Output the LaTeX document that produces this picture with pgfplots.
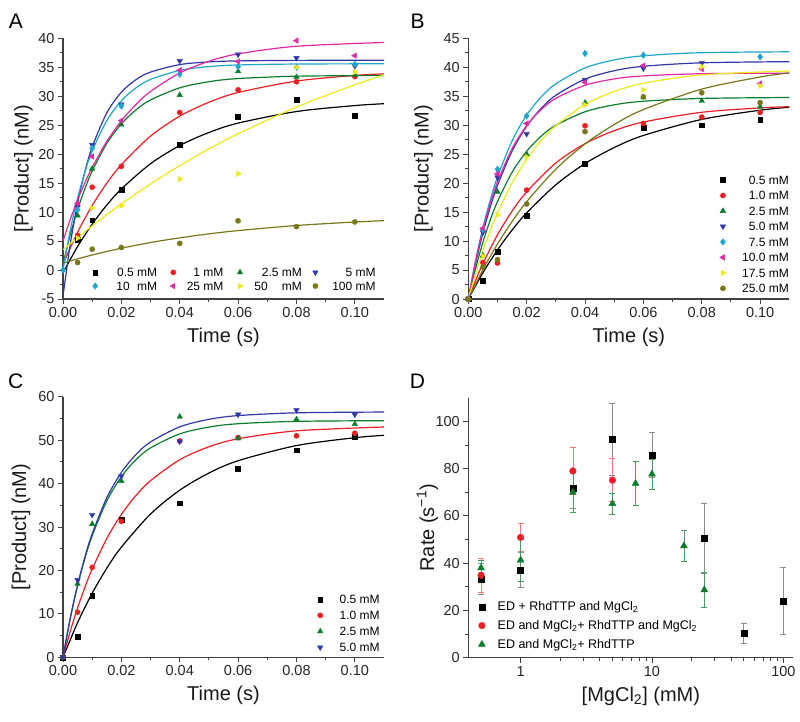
\documentclass[border=0pt]{standalone}
\usepackage{fontspec}
\setmainfont{Liberation Sans}
\usepackage{pgfplots}
\pgfplotsset{compat=1.18}
\definecolor{cBlack}{RGB}{0,0,0}
\definecolor{cRed}{RGB}{238,30,36}
\definecolor{cGreen}{RGB}{10,125,45}
\definecolor{cBlue}{RGB}{50,55,170}
\definecolor{cCyan}{RGB}{30,165,205}
\definecolor{cMag}{RGB}{228,40,165}
\definecolor{cYel}{RGB}{235,235,25}
\definecolor{cOli}{RGB}{120,120,25}
\pgfplotsset{
  panel/.style={scale only axis, axis x line*=bottom, axis y line*=left,
    tick align=outside, major tick length=5pt, minor tick length=3pt,
    every tick/.style={black!75, line width=0.9pt},
    axis line style={black!75, line width=1.1pt},
    tick label style={font=\fontsize{14.5}{16}\selectfont, black!85},
    label style={font=\fontsize{20}{24}\selectfont, black!90},
    /pgf/number format/assume math mode=true,
    legend image code/.code={\path (0pt,0pt) (12pt,0pt); \draw[##1] plot coordinates {(6pt,0pt)};},
  },
  kin/.style={panel, width=321pt, height=260.7pt, xmin=0, xmax=0.11,
    xtick={0,0.02,0.04,0.06,0.08,0.1}, minor x tick num=1, minor y tick num=1,
    xticklabel style={/pgf/number format/.cd, fixed, fixed zerofill, precision=2},
    yticklabel style={/pgf/number format/fixed},
    xlabel={Time (s)}, ylabel={[Product] (nM)},
    xlabel style={at={(axis description cs:0.5,-0.146)}, anchor=center},
  },
  leg/.style 2 args={legend style={draw=none, fill=none, inner sep=0pt, outer sep=0pt, row sep=0pt, column sep=0pt,
    font=\fontsize{12}{14}\selectfont,
    nodes={inner sep=0pt, outer sep=0pt, anchor=west, text height=#1, text depth=#2}}},
  fit/.style={smooth, line width=1.2pt, forget plot, no marks},
  sq/.style={only marks, mark=square*, mark size=2.4pt, color=#1},
  ci/.style={only marks, mark=*, mark size=2.6pt, color=#1},
  tu/.style={only marks, mark=triangle*, mark size=3.2pt, color=#1},
  td/.style={only marks, mark=triangle*, mark size=3.2pt, mark options={rotate=180}, color=#1},
  di/.style={only marks, mark=diamond*, mark size=3.3pt, color=#1},
  tl/.style={only marks, mark=triangle*, mark size=3.2pt, mark options={rotate=90}, color=#1},
  tr/.style={only marks, mark=triangle*, mark size=3.2pt, mark options={rotate=-90}, color=#1},
}
\begin{document}
\begin{tikzpicture}
\path[use as bounding box] (0,0) rectangle (800pt,-721pt);
\node[font=\fontsize{21}{24}\selectfont] at (15.8pt,-20.8pt) {A};
\node[font=\fontsize{21}{24}\selectfont] at (417.5pt,-20.8pt) {B};
\node[font=\fontsize{21}{24}\selectfont] at (15.8pt,-381pt) {C};
\node[font=\fontsize{21}{24}\selectfont] at (417.5pt,-381pt) {D};

% ---------------- Panel A ----------------
\begin{axis}[kin, at={(63pt,-299pt)}, anchor=south west, ymin=-5, ymax=40,
  ytick={-5,0,5,10,15,20,25,30,35,40},
  ylabel style={at={(axis description cs:-0.123,0.5)}, anchor=center},
  legend columns=4, leg={11.2pt}{2.5pt},
  legend style={at={(axis description cs:0.081,0.1285)}, anchor=north west},
]
\addplot[sq=cBlack] coordinates {(0.005,5.2) (0.01,8.6) (0.02,13.9) (0.04,21.6) (0.06,26.5) (0.08,29.4) (0.10,26.7)};
\addlegendentry{\makebox[65.7pt][r]{0.5 mM\hspace{10pt}}}
\addplot[ci=cRed] coordinates {(0.005,6.0) (0.01,14.3) (0.02,17.9) (0.04,27.2) (0.06,31.1) (0.08,32.5) (0.10,33.4)};
\addlegendentry{\makebox[54.3pt][r]{1 mM\hspace{10.3pt}}}
\addplot[tu=cGreen] coordinates {(0.005,9.4) (0.01,17.5) (0.02,25.1) (0.04,30.2) (0.06,34.3) (0.08,33.3) (0.10,33.7)};
\addlegendentry{\makebox[63pt][r]{2.5 mM\hspace{7.3pt}}}
\addplot[td=cBlue] coordinates {(0.005,10.9) (0.01,21.6) (0.02,28.6) (0.04,36.1) (0.06,37.2) (0.08,36.6) (0.10,35.2)};
\addlegendentry{\makebox[54pt][r]{5 mM}}
\addplot[di=cCyan] coordinates {(0,0) (0.005,10.4) (0.01,21.0) (0.02,28.3) (0.04,33.8) (0.06,35.1) (0.08,35.0) (0.10,35.5)};
\addlegendentry{\makebox[65.7pt][l]{\hspace{15pt}10\hfill mM\hspace{10pt}}}
\addplot[tl=cMag] coordinates {(0.005,11.5) (0.01,19.6) (0.02,25.8) (0.04,34.5) (0.06,36.0) (0.08,39.6) (0.10,37.0)};
\addlegendentry{\makebox[54.3pt][r]{25 mM\hspace{10.3pt}}}
\addplot[tr=cYel] coordinates {(0.005,5.5) (0.01,10.7) (0.02,11.1) (0.04,15.7) (0.06,16.6) (0.08,35.0) (0.10,34.2)};
\addlegendentry{\makebox[63pt][l]{\hspace{8.3pt}50\hfill mM\hspace{7.3pt}}}
\addplot[ci=cOli] coordinates {(0.005,1.3) (0.01,3.6) (0.02,3.9) (0.04,4.6) (0.06,8.5) (0.08,7.5) (0.10,8.3)};
\addlegendentry{\makebox[54pt][r]{100 mM}}
% fits
\addplot[fit, cBlack] coordinates {(0,-0.5) (0.005,4.06) (0.01,7.93) (0.015,11.21) (0.02,13.99) (0.03,18.35) (0.04,21.49) (0.05,23.74) (0.06,25.36) (0.08,27.36) (0.10,28.39) (0.11,28.71)};
\addplot[fit, cRed] coordinates {(0,1) (0.005,6.52) (0.01,11.13) (0.015,14.98) (0.02,18.19) (0.03,23.12) (0.04,26.56) (0.05,28.96) (0.06,30.64) (0.08,32.62) (0.10,33.59) (0.11,33.86)};
\addplot[fit, cGreen] coordinates {(0,1) (0.0025,6.10) (0.005,10.40) (0.0075,14.02) (0.01,17.08) (0.015,21.84) (0.02,25.23) (0.025,27.64) (0.03,29.36) (0.04,31.45) (0.05,32.51) (0.06,33.05) (0.08,33.46) (0.11,33.58)};
\addplot[fit, cBlue] coordinates {(0,-4.5) (0.0025,4.50) (0.005,11.52) (0.0075,16.97) (0.01,21.23) (0.015,27.12) (0.02,30.69) (0.025,32.86) (0.03,34.17) (0.04,35.46) (0.05,35.93) (0.06,36.10) (0.08,36.19) (0.11,36.20)};
\addplot[fit, cCyan] coordinates {(0,0) (0.0025,6.89) (0.005,12.44) (0.0075,16.92) (0.01,20.53) (0.015,25.80) (0.02,29.22) (0.025,31.45) (0.03,32.90) (0.04,34.46) (0.05,35.12) (0.06,35.40) (0.08,35.56) (0.11,35.60)};
\addplot[fit, cMag] coordinates {(0,5) (0.0025,8.75) (0.005,12.09) (0.0075,15.07) (0.01,17.72) (0.015,22.19) (0.02,25.75) (0.025,28.58) (0.03,30.82) (0.04,34.02) (0.05,36.04) (0.06,37.32) (0.08,38.63) (0.11,39.28)};
\addplot[fit, cYel] coordinates {(0,3.5) (0.005,5.61) (0.01,7.63) (0.015,9.56) (0.02,11.41) (0.03,14.86) (0.04,18.01) (0.05,20.90) (0.06,23.53) (0.08,28.13) (0.10,31.98) (0.11,33.66)};
\addplot[fit, cOli] coordinates {(0,1.2) (0.005,1.93) (0.01,2.60) (0.015,3.21) (0.02,3.77) (0.03,4.75) (0.04,5.56) (0.05,6.24) (0.06,6.81) (0.08,7.69) (0.10,8.29) (0.11,8.53)};
\end{axis}

% ---------------- Panel B ----------------
\begin{axis}[kin, at={(468.3pt,-299pt)}, anchor=south west, ymin=0, ymax=45,
  ytick={0,5,10,15,20,25,30,35,40,45},
  ylabel style={at={(axis description cs:-0.14,0.5)}, anchor=center},
  leg={12.1pt}{3.37pt},
  legend style={at={(axis description cs:0.774,0.486)}, anchor=north west},
]
\addplot[sq=cBlack] coordinates {(0,0) (0.005,3.1) (0.01,8.2) (0.02,14.4) (0.04,23.3) (0.06,29.6) (0.08,30.0) (0.10,30.9)};
\addlegendentry{\makebox[59.6pt][r]{0.5 mM}}
\addplot[ci=cRed] coordinates {(0,0) (0.005,6.3) (0.01,6.2) (0.02,18.8) (0.04,29.9) (0.06,30.3) (0.08,31.4) (0.10,32.2)};
\addlegendentry{\makebox[59.6pt][r]{1.0 mM}}
\addplot[tu=cGreen] coordinates {(0,0) (0.005,7.5) (0.01,18.5) (0.02,25.0) (0.04,33.9) (0.06,34.8) (0.08,34.2) (0.10,33.2)};
\addlegendentry{\makebox[59.6pt][r]{2.5 mM}}
\addplot[td=cBlue] coordinates {(0,0) (0.005,11.5) (0.01,21.0) (0.02,28.5) (0.04,37.8) (0.06,39.8) (0.08,40.7)};
\addlegendentry{\makebox[59.6pt][r]{5.0 mM}}
\addplot[di=cCyan] coordinates {(0,0) (0.005,12.0) (0.01,22.4) (0.02,31.6) (0.04,42.4) (0.06,42.1) (0.10,41.8)};
\addlegendentry{\makebox[59.6pt][r]{7.5 mM}}
\addplot[tl=cMag] coordinates {(0,0) (0.005,12.2) (0.01,21.6) (0.02,30.3) (0.04,37.4) (0.06,40.3) (0.08,39.7) (0.10,37.2)};
\addlegendentry{\makebox[59.6pt][r]{10.0 mM}}
\addplot[tr=cYel] coordinates {(0,0) (0.005,7.4) (0.01,14.5) (0.02,24.5) (0.04,33.5) (0.06,36.1) (0.08,40.1) (0.10,36.8)};
\addlegendentry{\makebox[59.6pt][r]{17.5 mM}}
\addplot[ci=cOli] coordinates {(0,0) (0.005,5.5) (0.01,6.8) (0.02,16.4) (0.04,28.9) (0.06,34.9) (0.08,35.6) (0.10,33.9)};
\addlegendentry{\makebox[59.6pt][r]{25.0 mM}}
\addplot[fit, cBlack] coordinates {(0,0) (0.005,4.53) (0.01,8.47) (0.015,11.90) (0.02,14.88) (0.03,19.72) (0.04,23.38) (0.05,26.14) (0.06,28.23) (0.08,31.00) (0.10,32.59) (0.11,33.10)};
\addplot[fit, cRed] coordinates {(0,0) (0.0025,3.20) (0.005,6.09) (0.01,11.08) (0.015,15.16) (0.02,18.50) (0.03,23.48) (0.04,26.82) (0.05,29.05) (0.06,30.55) (0.08,32.23) (0.10,32.99) (0.11,33.19)};
\addplot[fit, cGreen] coordinates {(0,0) (0.0025,5.29) (0.005,9.78) (0.0075,13.59) (0.01,16.81) (0.015,21.87) (0.02,25.50) (0.025,28.12) (0.03,30.00) (0.04,32.32) (0.05,33.52) (0.06,34.14) (0.08,34.62) (0.11,34.78)};
\addplot[fit, cBlue] coordinates {(0,0) (0.0025,6.15) (0.005,11.38) (0.0075,15.82) (0.01,19.60) (0.015,25.53) (0.02,29.83) (0.025,32.93) (0.03,35.17) (0.04,37.95) (0.05,39.41) (0.06,40.17) (0.08,40.77) (0.11,40.97)};
\addplot[fit, cCyan] coordinates {(0,0) (0.0025,6.67) (0.005,12.31) (0.0075,17.06) (0.01,21.07) (0.015,27.30) (0.02,31.74) (0.025,34.90) (0.03,37.15) (0.04,39.89) (0.05,41.27) (0.06,41.98) (0.08,42.52) (0.11,42.67)};
\addplot[fit, cMag] coordinates {(0,0) (0.0025,6.51) (0.005,11.93) (0.0075,16.44) (0.01,20.21) (0.015,25.95) (0.02,29.94) (0.025,32.71) (0.03,34.64) (0.04,36.90) (0.05,37.99) (0.06,38.51) (0.08,38.89) (0.11,38.99)};
\addplot[fit, cYel] coordinates {(0,0) (0.0025,4.39) (0.005,8.29) (0.0075,11.77) (0.01,14.85) (0.015,20.03) (0.02,24.13) (0.025,27.37) (0.03,29.93) (0.04,33.56) (0.05,35.82) (0.06,37.24) (0.08,38.68) (0.11,39.37)};
\addplot[fit, cOli] coordinates {(0,0) (0.005,5.05) (0.01,9.48) (0.015,13.37) (0.02,16.79) (0.03,22.42) (0.04,26.77) (0.05,30.12) (0.06,32.70) (0.08,36.23) (0.10,38.32) (0.11,39.03)};
\end{axis}

% ---------------- Panel C ----------------
\begin{axis}[kin, at={(63pt,-657.3pt)}, anchor=south west, ymin=0, ymax=60, height=260.6pt,
  ytick={0,10,20,30,40,50,60},
  ylabel style={at={(axis description cs:-0.131,0.5)}, anchor=center},
  leg={12.3pt}{3.7pt},
  legend style={at={(axis description cs:0.782,0.253)}, anchor=north west},
]
\addplot[sq=cBlack] coordinates {(0,0) (0.005,4.8) (0.01,14.1) (0.02,31.7) (0.04,35.5) (0.06,43.5) (0.08,47.7) (0.10,50.8)};
\addlegendentry{\makebox[53.3pt][r]{0.5 mM}}
\addplot[ci=cRed] coordinates {(0,0) (0.005,10.4) (0.01,20.7) (0.02,31.3) (0.04,49.8) (0.06,50.6) (0.08,51.0) (0.10,51.6)};
\addlegendentry{\makebox[53.3pt][r]{1.0 mM}}
\addplot[tu=cGreen] coordinates {(0,0) (0.005,16.9) (0.01,30.7) (0.02,40.6) (0.04,55.4) (0.06,50.4) (0.08,54.8) (0.10,53.7)};
\addlegendentry{\makebox[53.3pt][r]{2.5 mM}}
\addplot[td=cBlue] coordinates {(0,0) (0.005,17.8) (0.01,32.8) (0.02,41.7) (0.04,49.7) (0.06,55.9) (0.08,56.9) (0.10,55.9)};
\addlegendentry{\makebox[53.3pt][r]{5.0 mM}}
\addplot[fit, cBlack] coordinates {(0,0) (0.005,7.99) (0.01,14.76) (0.015,20.50) (0.02,25.36) (0.03,32.99) (0.04,38.48) (0.05,42.42) (0.06,45.26) (0.08,48.75) (0.10,50.56) (0.11,51.11)};
\addplot[fit, cRed] coordinates {(0,0) (0.0025,6.03) (0.005,11.37) (0.0075,16.11) (0.01,20.32) (0.015,27.35) (0.02,32.89) (0.025,37.25) (0.03,40.67) (0.04,45.49) (0.05,48.47) (0.06,50.31) (0.08,52.15) (0.11,53.03)};
\addplot[fit, cGreen] coordinates {(0,0) (0.0025,8.98) (0.005,16.48) (0.0075,22.74) (0.01,27.97) (0.015,35.99) (0.02,41.59) (0.025,45.49) (0.03,48.22) (0.04,51.44) (0.05,53.01) (0.06,53.78) (0.08,54.33) (0.11,54.48)};
\addplot[fit, cBlue] coordinates {(0,0) (0.0025,9.07) (0.005,16.68) (0.0075,23.07) (0.01,28.44) (0.015,36.73) (0.02,42.57) (0.025,46.68) (0.03,49.58) (0.04,53.06) (0.05,54.79) (0.06,55.65) (0.08,56.29) (0.11,56.47)};
\end{axis}

% ---------------- Panel D ----------------
\begin{axis}[panel, at={(468.3pt,-657.7pt)}, anchor=south west, width=325pt, height=260pt,
  xmode=log, xmin=0.4, xmax=119, ymin=0, ymax=110,
  xtick={1,10,100}, xticklabels={1,10,100},
  ytick={0,20,40,60,80,100}, minor y tick num=1,
  xlabel={[MgCl\textsubscript{2}] (mM)}, ylabel={Rate (s\textsuperscript{−1})},
  xlabel style={at={(axis description cs:0.531,-0.15)}, anchor=center},
  ylabel style={at={(axis description cs:-0.1255,0.5)}, anchor=center},
  leg={13.6pt}{5.2pt},
  legend style={at={(axis description cs:0.0228,0.232)}, anchor=north west, font=\fontsize{12.5}{14}\selectfont},
]
\addplot[only marks, mark=square*, mark size=3pt, color=cBlack,
  error bars/.cd, y dir=both, y explicit,
  error bar style={color=black!45, line width=0.7pt},
  error mark options={rotate=90, mark size=3pt, color=black!45, line width=0.7pt}]
  table[x=x, y=y, y error=e] {
x y e
0.5 33.3 6.5
1 37.0 7.4
2.5 71.6 8.2
5 92.3 15.2
10 85.8 9.4
25 50.7 14.8
50 10.3 4.3
100 24.1 14.2
};
\addlegendentry{\hspace{9.6pt}ED + RhdTTP and MgCl\textsubscript{2}}
\addplot[only marks, mark=*, mark size=3.3pt, color=cRed,
  error bars/.cd, y dir=both, y explicit,
  error bar style={color=cRed!60, line width=0.7pt},
  error mark options={rotate=90, mark size=3pt, color=cRed!60, line width=0.7pt}]
  table[x=x, y=y, y error=e] {
x y e
0.5 34.9 7.3
1 50.9 6.0
2.5 79.0 9.8
5 75.1 9.1
};
\addlegendentry{\hspace{9.6pt}ED and MgCl\textsubscript{2}+ RhdTTP and MgCl\textsubscript{2}}
\addplot[only marks, mark=triangle*, mark size=4pt, color=cGreen,
  error bars/.cd, y dir=both, y explicit,
  error bar style={color=cGreen!75, line width=0.7pt},
  error mark options={rotate=90, mark size=3pt, color=cGreen!75, line width=0.7pt}]
  table[x=x, y=y, y error=e] {
x y e
0.5 38.0 3.3
1 41.3 8.8
2.5 70.0 8.7
5 65.2 4.5
7.5 73.7 9.3
10 77.7 6.3
17.5 47.3 6.7
25 28.7 7.3
};
\addlegendentry{\hspace{9.6pt}ED and MgCl\textsubscript{2}+ RhdTTP}
\end{axis}
\end{tikzpicture}
\end{document}
